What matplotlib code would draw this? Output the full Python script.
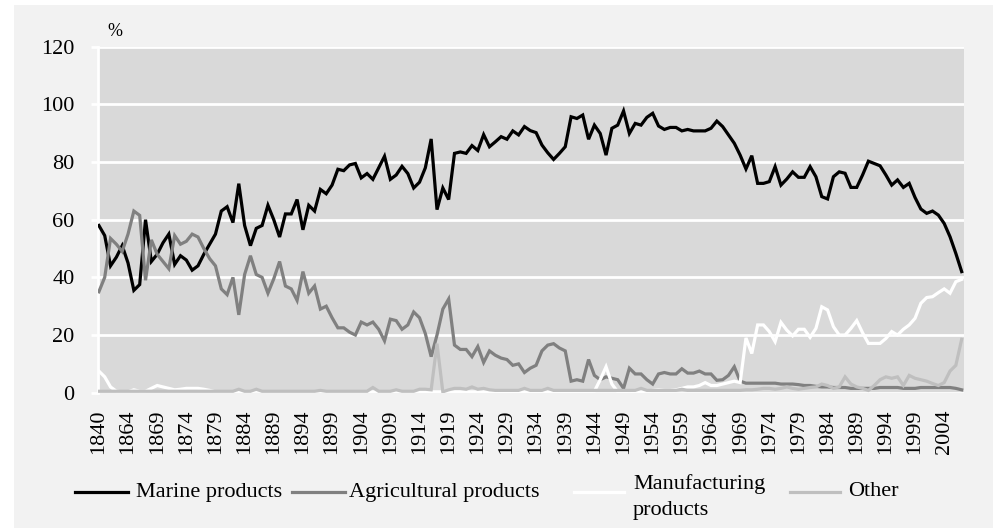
import matplotlib
matplotlib.use("Agg")
import matplotlib.pyplot as plt
from matplotlib.lines import Line2D
from matplotlib.patches import Rectangle

plt.rcParams['font.family'] = ['Liberation Serif', 'DejaVu Serif']

# categories (only every 5th one is labelled on the axis)
years = [1840, 1845, 1850, 1855, 1860] + list(range(1864, 2008))

marine = [
    58, 54.5, 44, 47, 51, 45, 35.5, 37.5, 60, 45.5,
    48, 52, 55, 44.5, 47.5, 46, 42.5, 44, 48, 51.5,
    55, 63, 64.5, 59, 72.5, 58, 51, 57, 58, 65,
    60, 54, 62, 62, 67, 56.5, 65, 63, 70.5, 69,
    72, 77.5, 77, 79, 79.5, 74.5, 76, 74, 78, 82,
    74, 75.5, 78.5, 76, 71, 73, 78, 88, 63.5, 71,
    67, 83, 83.5, 83, 85.7, 84, 89.5, 85.3, 87, 88.8,
    87.9, 90.8, 89.4, 92.3, 90.9, 90.2, 85.9, 83.2, 80.9, 83,
    85.3, 95.7, 95.1, 96.3, 87.9, 92.8, 89.9, 82.4, 91.7, 92.8,
    97.7, 89.9, 93.4, 92.8, 95.5, 96.9, 92.5, 91.3, 92, 92,
    90.8, 91.3, 90.8, 90.8, 90.8, 91.7, 94.2, 92.3, 89.4, 86.5,
    82.4, 77.6, 82.2, 72.6, 72.6, 73.2, 78.4, 72, 74.1, 76.6,
    74.7, 74.7, 78.4, 74.9, 68, 67.2, 74.9, 76.6, 76.1, 71.2,
    71.2, 75.5, 80.3, 79.5, 78.7, 75.5, 72, 73.8, 71.2, 72.6,
    67.7, 63.7, 62.2, 63, 61.6, 58.7, 54.1, 48.3, 42,
]

agricultural = [
    35, 40, 53.5, 51.5, 49, 55, 63, 61.5, 39, 53,
    48, 45.5, 43, 54.5, 51.5, 52.5, 55, 54, 50, 46.5,
    44, 36, 34, 40, 27, 41, 47.5, 41, 40, 34.5,
    39.5, 45.5, 37, 36, 32, 42, 34.5, 37, 29, 30,
    26, 22.5, 22.5, 21, 20, 24.5, 23.5, 24.5, 22, 18,
    25.5, 25, 22, 23.5, 28, 26, 20.5, 12.5, 20, 29,
    32.5, 16.5, 15, 15, 12.5, 16, 10.5, 14.5, 13, 12,
    11.5, 9.5, 10, 7, 8.5, 9.5, 14.5, 16.5, 17, 15.5,
    14.5, 4, 4.5, 4, 11.5, 6, 4.5, 5.5, 5, 4.5,
    1.5, 8.5, 6.5, 6.5, 4.5, 3, 6.5, 7, 6.5, 6.5,
    8.3, 6.8, 6.8, 7.5, 6.5, 6.5, 4.3, 4.5, 6, 9,
    4, 3.3, 3.3, 3.3, 3.3, 3.3, 3.3, 3, 3, 3,
    2.8, 2.5, 2.5, 2.2, 2, 2, 1.8, 1.8, 1.8, 1.5,
    1.5, 1.5, 1.5, 1.5, 1.8, 1.8, 1.8, 1.8, 1.5, 1.5,
    1.5, 1.8, 1.8, 1.8, 1.8, 1.8, 1.8, 1.5, 1,
]

manufacturing = [
    7.5, 5.5, 2, 0.5, 0.3, 0.3, 1, 0.5, 0.5, 1.5,
    2.5, 2, 1.5, 1, 1.2, 1.5, 1.5, 1.5, 1.2, 0.8,
    0.3, 0.3, 0.3, 0.3, 0.3, 0.3, 0.3, 0.8, 0.3, 0.3,
    0.3, 0.3, 0.3, 0.3, 0.3, 0.3, 0.3, 0.3, 0.3, 0.3,
    0.3, 0.3, 0.3, 0.3, 0.3, 0.3, 0.3, 0.3, 0.3, 0.3,
    0.3, 0.3, 0.3, 0.3, 0.3, 0.3, 0.3, 0.3, 0.3, 0.3,
    0.3, 0.3, 0.3, 0.3, 0.3, 0.3, 0.3, 0.3, 0.3, 0.3,
    0.3, 0.3, 0.3, 0.3, 0.3, 0.3, 0.3, 0.3, 0.3, 0.3,
    0.3, 0.3, 0.3, 0.3, 0.3, 0.5, 4.5, 9, 3, 0.3,
    0.3, 0.5, 0.3, 0.3, 0.5, 0.8, 1, 0.8, 0.8, 1,
    1.5, 2, 2, 2.5, 3.5, 2.5, 2.5, 3, 3.5, 4,
    3.5, 19, 13.6, 23.5, 23.5, 21.2, 17.7, 24.4, 21.7, 19.7,
    22, 22, 19.2, 22.3, 29.8, 28.7, 22.9, 20, 20, 22.3,
    25, 20.8, 17.1, 17.1, 17.1, 18.8, 21.2, 20, 22, 23.5,
    25.8, 31, 33, 33.3, 34.7, 36, 34.5, 38.5, 39.3,
]

other = [
    0.5, 0.5, 0.5, 0.5, 0.5, 0.5, 0.5, 0.5, 0.5, 0.5,
    0.5, 0.5, 0.5, 0.5, 0.5, 0.5, 0.5, 0.5, 0.5, 0.5,
    0.5, 0.5, 0.5, 0.5, 1.2, 0.5, 0.5, 1.2, 0.5, 0.5,
    0.5, 0.5, 0.5, 0.5, 0.5, 0.5, 0.5, 0.5, 0.8, 0.5,
    0.5, 0.5, 0.5, 0.5, 0.5, 0.5, 0.5, 1.8, 0.5, 0.5,
    0.5, 1, 0.5, 0.5, 0.5, 1.2, 1.2, 1, 17, 0.3,
    1, 1.5, 1.5, 1.2, 2, 1.2, 1.5, 1, 0.8, 0.8,
    0.8, 0.8, 0.8, 1.5, 0.8, 0.8, 0.8, 1.5, 0.8, 0.8,
    0.8, 0.8, 0.8, 0.8, 0.8, 0.8, 0.8, 0.8, 0.8, 0.8,
    0.8, 0.8, 0.8, 1.5, 0.8, 0.8, 0.8, 0.8, 0.8, 0.8,
    1.2, 0.8, 0.8, 0.8, 0.8, 0.8, 0.8, 0.8, 0.8, 0.8,
    0.8, 1, 1, 1.2, 1.5, 1.5, 1.2, 1.5, 2, 1.5,
    1.2, 1.5, 1.8, 2, 3, 2.5, 1.5, 2, 5.5, 3,
    2, 1.5, 0.8, 2.5, 4.5, 5.5, 5, 5.5, 2.5, 6,
    5, 4.5, 4, 3.2, 2.5, 3.5, 7.5, 9.5, 18.5,
]

names = ["Marine products", "Agricultural products",
         "Manufacturing\nproducts", "Other"]
colors = ["#000000", "#808080", "#FFFFFF", "#BFBFBF"]

W, H = 997, 528
fig = plt.figure(figsize=(W / 100, H / 100), dpi=100, facecolor="white")


def fx(px):
    return px / W


def fy(py):
    return 1 - py / H


# light grey chart area
fig.add_artist(Rectangle((fx(14), 0), fx(993) - fx(14), fy(5),
                         transform=fig.transFigure, facecolor="#F2F2F2",
                         edgecolor="none", zorder=0))

ax = fig.add_axes([fx(98), fy(392.7), fx(964) - fx(98), fy(46.7) - fy(392.7)])
ax.set_facecolor("#D9D9D9")

x = list(range(len(years)))
for series, c in zip([marine, agricultural, manufacturing, other], colors):
    ax.plot(x, series, color=c, lw=2.3, solid_joinstyle="miter", zorder=3)

ax.set_xlim(-0.15, len(years) - 0.6)
ax.set_ylim(0, 120)
ax.set_yticks(range(0, 121, 20))
ax.yaxis.grid(True, color="white", lw=2)
ax.set_axisbelow(True)

ax.set_xticks(x[::5])
ax.set_xticklabels([str(y) for y in years[::5]], rotation=90, fontsize=16)
ax.tick_params(axis="x", length=0, pad=12)
ax.tick_params(axis="y", length=5, width=2, color="white", pad=12, labelsize=16)

for s in ["top", "right", "bottom"]:
    ax.spines[s].set_visible(False)
ax.spines["left"].set_color("white")
ax.spines["left"].set_linewidth(2)

fig.text(fx(115), fy(31), "%", fontsize=13, ha="center", va="center")

# legend under the axis
legend_pos = [(75, 128, 136), (292, 345, 349), (574, 624, 633), (790, 840, 848)]
for (x0, x1, xt), name, c in zip(legend_pos, names, colors):
    fig.add_artist(Line2D([fx(x0), fx(x1)], [fy(492), fy(492)],
                          transform=fig.transFigure, color=c, lw=2.3))
    ty = 497 if "\n" in name else 492
    fig.text(fx(xt), fy(ty), name, fontsize=16, ha="left", va="center",
             linespacing=1.5)

fig.savefig("out.png", dpi=100, facecolor=fig.get_facecolor())
